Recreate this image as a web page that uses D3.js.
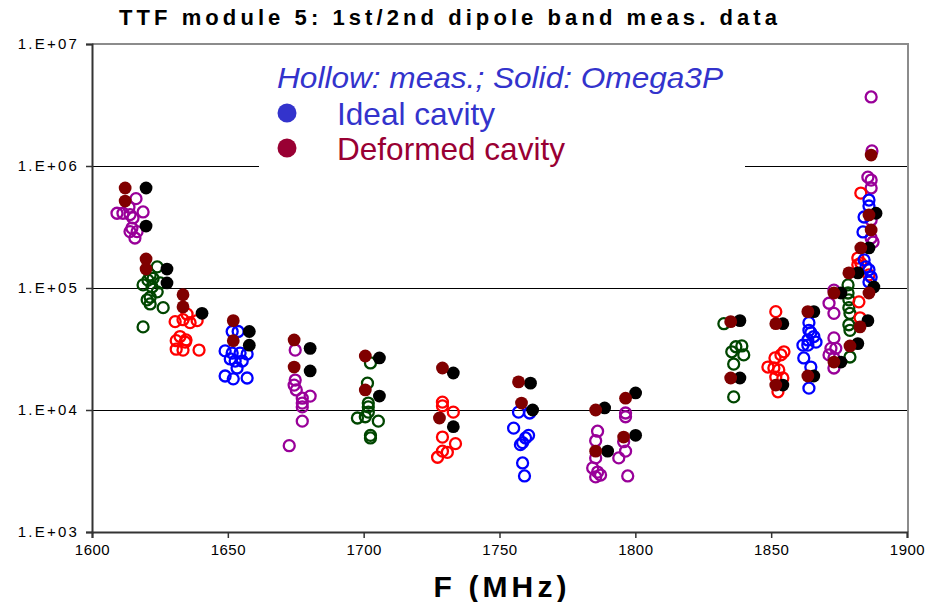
<!DOCTYPE html>
<html>
<head>
<meta charset="utf-8">
<script src="https://cdn.jsdelivr.net/npm/d3@7"></script>
<style>
  html, body { margin: 0; padding: 0; background: #fff; }
  svg { display: block; font-family: "Liberation Sans", Arial, sans-serif; }
</style>
</head>
<body>
<svg id="chart" width="933" height="602"></svg>
<script>
// ---------------- DATA ----------------
const chartTitle = "TTF module 5: 1st/2nd dipole band meas. data";
const xTitle = "F (MHz)";
const xTicks = [1600, 1650, 1700, 1750, 1800, 1850, 1900];
const yTicks = [1e3, 1e4, 1e5, 1e6, 1e7];
const yTickLabels = ["1.E+03", "1.E+04", "1.E+05", "1.E+06", "1.E+07"];
const gridValues = [1e4, 1e5, 1e6];
const legendHeader = "Hollow: meas.; Solid: Omega3P";
const legendItems = ["Ideal cavity", "Deformed cavity"];

// measured (hollow) points [MHz, value]
const measPurple = [
  [1609.2,4.1e5],[1611.4,4.1e5],[1613.6,4.6e5],[1614.0,4.0e5],[1615.1,3.75e5],[1616.2,5.4e5],[1618.8,4.2e5],[1614.7,3.1e5],[1614.0,2.9e5],[1616.6,2.9e5],[1615.8,2.57e5],
  [1674.8,3.1e4],[1674.4,1.6e4],[1674.8,1.76e4],[1675.2,1.46e4],[1677.4,1.25e4],[1680.3,1.3e4],[1677.4,1.14e4],[1677.4,1.06e4],[1677.4,8.1e3],[1672.6,5.1e3],
  [1786.1,6.7e3],[1785.4,5.6e3],[1785.4,4.05e3],[1784.3,3.35e3],[1786.1,3.1e3],[1787.2,2.93e3],[1785.4,2.83e3],
  [1796.4,9.45e3],[1796.4,8.8e3],[1795.7,5.5e3],[1796.4,4.6e3],[1793.9,4.05e3],[1797.2,2.88e3],
  [1873.1,9.6e4],[1871.3,7.5e4],[1873.1,6.2e4],[1873.1,3.9e4],[1872.0,3.2e4],[1873.8,3.2e4],[1871.3,2.83e4],[1873.1,2.67e4],[1873.1,2.21e4],
  [1886.8,3.68e6],[1887.1,1.33e6],[1885.6,8.1e5],[1886.8,7.67e5],[1886.8,6.6e5],[1886.8,3.61e5],[1886.8,2.57e5],[1887.5,2.38e5]
];
const measGreen = [
  [1624.0,1.49e5],[1621.4,1.28e5],[1622.5,1.2e5],[1620.6,1.16e5],[1618.8,1.06e5],[1622.1,1.02e5],[1625.1,1.1e5],[1624.0,9.3e4],[1621.4,8.4e4],[1620.3,8.0e4],[1621.4,7.4e4],[1626.2,6.9e4],[1618.8,4.8e4],
  [1702.5,2.43e4],[1701.4,1.66e4],[1701.7,1.14e4],[1701.7,1.06e4],[1701.7,9.6e3],[1697.7,8.6e3],[1700.6,8.8e3],[1705.4,8.1e3],[1702.5,6.2e3],[1702.5,5.9e3],
  [1832.6,5.1e4],[1837.0,3.3e4],[1839.2,3.35e4],[1835.5,3.0e4],[1839.9,2.83e4],[1836.2,2.38e4],[1836.2,1.28e4],
  [1878.3,1.06e5],[1878.3,9.1e4],[1878.6,8.0e4],[1878.6,6.9e4],[1879.0,6.2e4],[1878.6,5.0e4],[1879.0,4.5e4],[1879.0,2.72e4]
];
const measRed = [
  [1630.6,5.3e4],[1633.5,5.5e4],[1636.1,5.2e4],[1638.7,5.4e4],[1635.0,6.1e4],[1631.0,3.7e4],[1632.4,4.0e4],[1634.3,3.6e4],[1633.5,3.1e4],[1639.4,3.1e4],[1631.0,3.15e4],[1634.6,3.75e4],
  [1729.0,1.16e4],[1729.0,1.08e4],[1733.0,9.6e3],[1729.0,6.0e3],[1733.8,5.3e3],[1729.0,4.6e3],[1730.8,4.5e3],[1727.2,4.1e3],
  [1851.7,6.4e4],[1854.7,3.0e4],[1853.6,2.83e4],[1851.4,2.67e4],[1848.8,2.25e4],[1851.0,2.21e4],[1852.8,2.13e4],[1851.7,1.86e4],[1854.3,1.83e4],[1852.5,1.41e4],
  [1883.0,6.0e5],[1881.9,1.76e5],[1883.0,1.6e5],[1881.9,1.55e5],[1886.0,1.28e5],[1882.3,7.7e4],[1882.7,5.7e4]
];
const measBlue = [
  [1651.6,4.4e4],[1653.8,4.4e4],[1649.0,3.05e4],[1651.6,2.93e4],[1654.5,2.93e4],[1657.1,2.88e4],[1650.9,2.62e4],[1652.7,2.52e4],[1655.3,2.52e4],[1653.4,2.21e4],[1649.0,1.9e4],[1652.0,1.8e4],[1657.1,1.83e4],
  [1757.0,9.6e3],[1761.1,9.45e3],[1755.2,7.1e3],[1760.7,6.2e3],[1759.6,5.9e3],[1758.5,5.4e3],[1757.7,5.2e3],[1758.5,3.68e3],[1759.2,2.88e3],
  [1863.9,5.2e4],[1863.9,4.5e4],[1864.6,4.3e4],[1865.7,4.0e4],[1863.5,3.75e4],[1866.5,3.6e4],[1861.7,3.4e4],[1863.5,3.4e4],[1862.0,2.67e4],[1864.6,2.25e4],[1863.9,1.51e4],
  [1886.0,5.26e5],[1886.0,4.7e5],[1884.2,3.82e5],[1883.8,2.88e5],[1884.2,1.7e5],[1884.9,1.49e5],[1886.0,1.41e5],[1886.8,1.23e5],[1886.0,1.12e5]
];
// Omega3P (solid) points [MHz, value]
const calcIdeal = [
  [1619.9,6.6e5],[1619.9,3.22e5],[1627.6,1.43e5],[1627.6,1.1e5],[1640.5,6.2e4],[1657.9,4.4e4],[1657.9,3.4e4],[1680.3,3.2e4],[1680.3,2.09e4],
  [1705.8,2.67e4],[1705.8,1.3e4],[1733.0,2.01e4],[1733.0,7.3e3],[1761.4,1.66e4],[1762.2,1.0e4],[1788.7,1.04e4],[1789.8,4.6e3],[1800.1,1.38e4],[1800.1,6.2e3],
  [1838.5,5.4e4],[1838.5,1.83e4],[1854.3,5.1e4],[1854.3,1.6e4],[1865.7,6.4e4],[1865.7,1.9e4],[1875.7,9.1e4],[1875.7,2.47e4],[1881.9,1.33e5],[1881.9,3.5e4],
  [1887.8,1.02e5],[1885.6,5.4e4],[1888.6,4.1e5],[1886.0,2.13e5]
];
const calcDeformed = [
  [1612.2,6.6e5],[1612.2,5.16e5],[1619.9,1.73e5],[1619.9,1.43e5],[1633.5,8.8e4],[1633.5,7.0e4],[1652.0,5.4e4],[1652.0,3.7e4],[1674.4,3.75e4],[1674.4,2.25e4],
  [1700.6,2.77e4],[1700.6,1.46e4],[1729.0,2.21e4],[1727.9,8.6e3],[1757.0,1.7e4],[1758.1,1.14e4],[1785.4,1.0e4],[1785.4,4.6e3],[1796.4,1.25e4],[1795.7,6.0e3],
  [1835.1,5.3e4],[1835.1,1.83e4],[1851.7,5.1e4],[1851.7,1.6e4],[1863.5,6.4e4],[1863.5,1.9e4],[1873.1,9.1e4],[1873.1,2.47e4],[1878.6,1.33e5],[1879.0,3.35e4],
  [1886.0,9.1e4],[1882.7,4.8e4],[1886.8,1.23e6],[1886.0,3.97e5],[1886.8,2.99e5],[1883.0,2.13e5]
];

// ---------------- CHART ----------------
const svg = d3.select("#chart");
const plot = { left: 92, right: 907, top: 44, bottom: 532 };

const x = d3.scaleLinear().domain([1600, 1900]).range([plot.left, plot.right]);
const y = d3.scaleLog().domain([1e3, 1e7]).range([plot.bottom, plot.top]);

svg.append("rect").attr("width", 933).attr("height", 602).attr("fill", "#fff");

// gridlines
svg.append("g").selectAll("line").data(gridValues).join("line")
  .attr("x1", plot.left).attr("x2", plot.right + 1)
  .attr("y1", d => Math.round(y(d)) + 0.5).attr("y2", d => Math.round(y(d)) + 0.5)
  .attr("stroke", "#000").attr("stroke-width", 1);

// top / right border
svg.append("path")
  .attr("d", `M${plot.left},${plot.top}H${plot.right + 1}V${plot.bottom}`)
  .attr("fill", "none").attr("stroke", "#8c8c8c").attr("stroke-width", 2);

// legend box (white, covers grid)
const lg = svg.append("g");
lg.append("rect").attr("x", 259).attr("y", 56).attr("width", 486).attr("height", 116).attr("fill", "#fff");
lg.append("text").attr("x", 277).attr("y", 88)
  .attr("font-size", 29).attr("font-style", "italic").attr("fill", "#3333cc")
  .attr("textLength", 446).attr("lengthAdjust", "spacingAndGlyphs")
  .text(legendHeader);
const legendColors = ["#3333cc", "#990033"];
const legendWidths = [158, 228];
legendItems.forEach((t, i) => {
  lg.append("circle").attr("cx", 287).attr("cy", 113 + i * 35).attr("r", 9.5).attr("fill", legendColors[i]);
  lg.append("text").attr("x", 337).attr("y", 125 + i * 35)
    .attr("font-size", 31.5).attr("fill", legendColors[i])
    .attr("textLength", legendWidths[i]).attr("lengthAdjust", "spacingAndGlyphs")
    .text(t);
});

// axes
const yAxis = d3.axisLeft(y).tickValues(yTicks).tickSize(6).tickFormat((d, i) => yTickLabels[i]);
const gy = svg.append("g").attr("transform", `translate(${plot.left},0)`).call(yAxis);
gy.select(".domain").attr("stroke", "#333").attr("stroke-width", 2);
gy.selectAll(".tick line").attr("stroke", "#333").attr("stroke-width", 1.5);
gy.selectAll(".tick text").attr("font-size", 15).attr("fill", "#000")
  .attr("font-family", "'Liberation Sans', Arial, sans-serif")
  .attr("letter-spacing", 2.2).attr("x", -13);

const xAxis = d3.axisBottom(x).tickValues(xTicks).tickSize(6).tickFormat(d3.format("d"));
const gx = svg.append("g").attr("transform", `translate(0,${plot.bottom})`).call(xAxis);
gx.select(".domain").attr("stroke", "#333").attr("stroke-width", 2);
gx.selectAll(".tick line").attr("stroke", "#333").attr("stroke-width", 1.5);
gx.selectAll(".tick text").attr("font-size", 15).attr("fill", "#000")
  .attr("font-family", "'Liberation Sans', Arial, sans-serif")
  .attr("letter-spacing", 0.5).attr("y", 12);

// measured hollow circles
const hollow = [
  { data: measPurple, color: "#990099" },
  { data: measGreen, color: "#004600" },
  { data: measRed, color: "#ff0000" },
  { data: measBlue, color: "#0000ff" }
];
hollow.forEach(s => {
  svg.append("g").selectAll("circle").data(s.data).join("circle")
    .attr("cx", d => x(d[0])).attr("cy", d => y(d[1])).attr("r", 5.5)
    .attr("fill", "none").attr("stroke", s.color).attr("stroke-width", 2.3);
});

// calculated solid circles
svg.append("g").selectAll("circle").data(calcIdeal).join("circle")
  .attr("cx", d => x(d[0])).attr("cy", d => y(d[1])).attr("r", 6.4).attr("fill", "#000");
svg.append("g").selectAll("circle").data(calcDeformed).join("circle")
  .attr("cx", d => x(d[0])).attr("cy", d => y(d[1])).attr("r", 6.4).attr("fill", "#800000");

// titles
svg.append("text").attr("x", 448).attr("y", 25).attr("text-anchor", "middle")
  .attr("font-size", 22).attr("font-weight", "bold")
  .attr("textLength", 658).attr("lengthAdjust", "spacing")
  .text(chartTitle);
svg.append("text").attr("x", 500).attr("y", 597).attr("text-anchor", "middle")
  .attr("font-size", 30).attr("font-weight", "bold")
  .attr("textLength", 133).attr("lengthAdjust", "spacing")
  .text(xTitle);
</script>
</body>
</html>
